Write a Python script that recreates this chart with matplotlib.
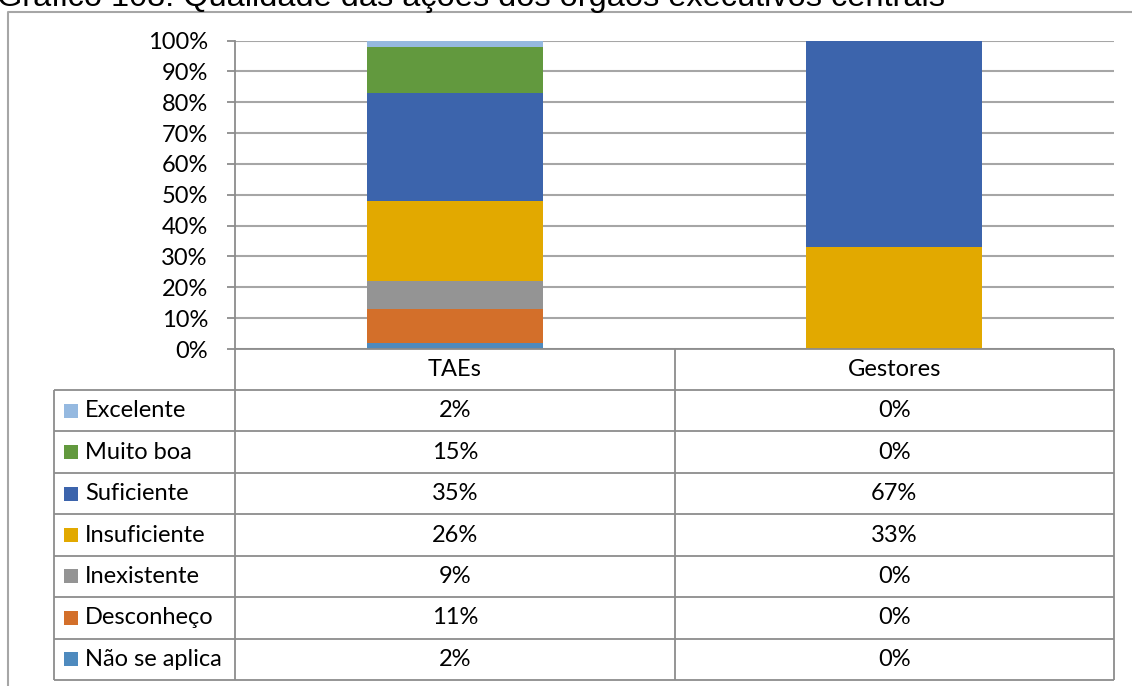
import matplotlib.pyplot as plt
import numpy as np

# categories and shares (%)
groups = ["TAEs", "Gestores"]
levels = ["Não se aplica", "Desconheço", "Inexistente", "Insuficiente",
          "Suficiente", "Muito boa", "Excelente"]
taes = [2, 11, 9, 26, 35, 15, 2]
gestores = [0, 0, 0, 33, 67, 0, 0]
colors = ["#4E8ABE", "#D36F2A", "#949494", "#E2A900",
          "#3C64AC", "#62993E", "#95B9E0"]
yticks = list(range(0, 101, 10))
title = "Gráfico 108: Qualidade das ações dos órgãos executivos centrais"

W, H = 1132, 686
fig = plt.figure(figsize=(W / 100, H / 100), dpi=100)
body_font = ["Lato", "DejaVu Sans"]
fs = 17
line_col = "#8C8C8C"
grid_col = "#A6A6A6"

# pixel geometry
x0, x1 = 235, 1114
ytop, ybot = 40.5, 349
row_h = (680 - 390) / 7

ax = fig.add_axes([x0 / W, 1 - ybot / H, (x1 - x0) / W, (ybot - ytop) / H])
vals = np.array([taes, gestores])
xs = np.arange(len(groups))
bottom = np.zeros(len(groups))
for i, lev in enumerate(levels):
    ax.bar(xs, vals[:, i], width=0.4, bottom=bottom, color=colors[i],
           zorder=3, linewidth=0)
    bottom += vals[:, i]
ax.set_xlim(-0.5, len(groups) - 0.5)
ax.set_ylim(0, 100)
ax.set_yticks(yticks)
ax.set_yticklabels([f"{t}%" for t in yticks], family=body_font, fontsize=fs)
ax.set_xticks([])
ax.yaxis.grid(True, color=grid_col, linewidth=1.5, zorder=0)
for s in ["top", "right", "bottom"]:
    ax.spines[s].set_visible(False)
ax.spines["left"].set_color(line_col)
ax.spines["left"].set_linewidth(1.3)
ax.tick_params(axis="y", length=5.8, color=line_col, width=1.3, pad=13.7)

# overlay in pixel coordinates for frame, title and data table
ov = fig.add_axes([0, 0, 1, 1], zorder=-1)
ov.set_xlim(0, W)
ov.set_ylim(H, 0)
ov.axis("off")
ov2 = fig.add_axes([0, 0, 1, 1])
ov2.set_xlim(0, W)
ov2.set_ylim(H, 0)
ov2.axis("off")

# outer chart frame
ov.plot([8, 8, W + 5], [H + 5, 12, 12], color=grid_col, lw=1.5)
ov2.text(-3, 6, title, family=["Liberation Sans"], fontsize=23.4,
         ha="left", va="baseline", clip_on=False)

# table grid
xl, xm = 54, (x0 + x1) / 2
ty0 = 390
kw = dict(color=line_col, lw=1.3, solid_capstyle="butt")
ov2.plot([x0, x1], [ybot, ybot], **kw)
ov2.plot([x0, x0], [ybot, ty0 + 7 * row_h], **kw)
ov2.plot([xm, xm], [ybot, ty0 + 7 * row_h], **kw)
ov2.plot([x1, x1], [ybot, ty0 + 7 * row_h], **kw)
ov2.plot([xl, xl], [ty0, ty0 + 7 * row_h], **kw)
for r in range(8):
    yy = ty0 + r * row_h
    ov2.plot([xl, x1], [yy, yy], **kw)

for j, g in enumerate(groups):
    ov2.text(x0 + (j + 0.5) * (x1 - x0) / 2, (ybot + ty0) / 2, g,
             family=body_font, fontsize=fs, ha="center", va="center")

for r, i in enumerate(range(len(levels) - 1, -1, -1)):
    yc = ty0 + (r + 0.5) * row_h
    ov2.add_patch(plt.Rectangle((64, yc - 7), 14, 14, color=colors[i], lw=0))
    ov2.text(85, yc, levels[i], family=body_font, fontsize=fs,
             ha="left", va="center")
    for j in range(len(groups)):
        ov2.text(x0 + (j + 0.5) * (x1 - x0) / 2, yc, f"{vals[j, i]}%",
                 family=body_font, fontsize=fs, ha="center", va="center")

fig.savefig("out.png", dpi=100)
